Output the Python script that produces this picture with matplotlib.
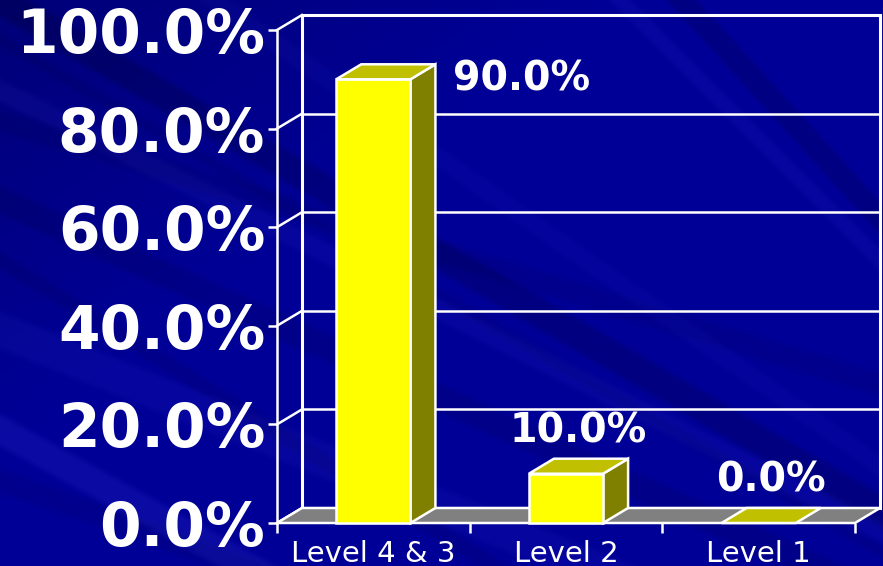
import numpy as np
import matplotlib
matplotlib.use("Agg")
import matplotlib.pyplot as plt
from matplotlib.patches import Polygon

# ---- data ----
categories = ["Level 4 & 3", "Level 2", "Level 1"]
values = [90.0, 10.0, 0.0]
yticks = [0, 20, 40, 60, 80, 100]
ytick_labels = ["0.0%", "20.0%", "40.0%", "60.0%", "80.0%", "100.0%"]

W_PX, H_PX = 883, 566
fig = plt.figure(figsize=(W_PX / 100, H_PX / 100), dpi=100)

# ---- background (dark blue with subtle diagonal streaks) ----
yy, xx = np.mgrid[0:H_PX, 0:W_PX].astype(float)
blue = np.full((H_PX, W_PX), 150.0)
red = np.zeros((H_PX, W_PX))
green = np.zeros((H_PX, W_PX))
blue -= 30 * np.clip(1 - (xx / 600 + yy / 450), 0, 1)

def band(slope, icpt, width, delta, soft=8.0):
    u = yy - slope * xx - icpt
    m = np.clip((width / 2 - np.abs(u)) / soft, 0, 1)
    return m * delta

streaks = [
    (0.58, 0, 40, -22), (0.50, 90, 30, 8), (0.45, 200, 35, -14),
    (0.40, 330, 45, 8), (0.55, 430, 40, 14), (0.35, 480, 30, -10),
    (1.10, -750, 40, -20), (1.0, -620, 30, 8), (0.70, -150, 30, 6),
    (0.30, 120, 30, -10), (0.62, 260, 25, -12), (0.58, 40, 20, -10),
]
for s, c, w, d in streaks:
    b = band(s, c, w, d)
    blue += b
    lift = np.clip(b, 0, None)
    red += 0.8 * lift
    green += 0.8 * lift
img = np.dstack([red, green, blue]) / 255.0
img = np.clip(img, 0, 1)
bg = fig.add_axes([0, 0, 1, 1])
bg.imshow(img, aspect="auto", interpolation="bilinear")
bg.axis("off")

# ---- main axes (front plane) ----
left_px, right_px, top_px, bottom_px = 277, 855, 30, 523
ax = fig.add_axes([left_px / W_PX, 1 - bottom_px / H_PX,
                   (right_px - left_px) / W_PX, (bottom_px - top_px) / H_PX])
ax.patch.set_alpha(0)
n = len(categories)
ax.set_xlim(0, n)
ax.set_ylim(0, 100)

# depth offsets in data units
dx = 25 / ((right_px - left_px) / n)
dy = 15 / ((bottom_px - top_px) / 100)
bar_w = 0.385
lw = 1.8
white = "white"

# floor
ax.add_patch(Polygon([(0, 0), (n, 0), (n + dx, dy), (dx, dy)], closed=True,
                     facecolor="#808080", edgecolor=white, lw=lw, clip_on=False, zorder=2))
# back wall
ax.add_patch(Polygon([(dx, dy), (n + dx, dy), (n + dx, 100 + dy), (dx, 100 + dy)], closed=True,
                     facecolor="none", edgecolor=white, lw=2.2, clip_on=False, zorder=1))
# side wall edges and grid lines
for v in yticks:
    ax.plot([0, dx], [v, v + dy], color=white, lw=lw, clip_on=False, zorder=1)
    if 0 < v < 100:
        ax.plot([dx, n + dx], [v + dy, v + dy], color=white, lw=lw, clip_on=False, zorder=1)

# bars
for i, v in enumerate(values):
    x0 = i + 0.5 - bar_w / 2
    x1 = x0 + bar_w
    if v > 0:
        ax.add_patch(Polygon([(x1, 0), (x1 + dx, dy), (x1 + dx, v + dy), (x1, v)], closed=True,
                             facecolor="#808000", edgecolor=white, lw=lw, clip_on=False, zorder=3))
        ax.add_patch(Polygon([(x0, 0), (x1, 0), (x1, v), (x0, v)], closed=True,
                             facecolor="#FFFF00", edgecolor=white, lw=lw, clip_on=False, zorder=3))
    ax.add_patch(Polygon([(x0, v), (x1, v), (x1 + dx, v + dy), (x0 + dx, v + dy)], closed=True,
                         facecolor="#C0C000", edgecolor=white, lw=lw, clip_on=False, zorder=3))
    label = f"{v:.1f}%"
    if v > 80:
        ax.text(x1 + dx + 0.09, v, label, ha="left", va="center", color=white,
                fontsize=28.5, fontweight="bold", family="DejaVu Sans", zorder=4)
    else:
        ax.text(i + 0.5 + dx / 2, v + dy + 1.5, label, ha="center", va="bottom", color=white,
                fontsize=28.5, fontweight="bold", family="DejaVu Sans", zorder=4)

# axes styling
for side in ["top", "right", "bottom"]:
    ax.spines[side].set_visible(False)
ax.spines["left"].set_color(white)
ax.spines["left"].set_linewidth(lw)
ax.spines["left"].set_zorder(2)

ax.set_yticks(yticks)
ax.set_yticklabels(ytick_labels, fontsize=43, fontweight="bold", color=white, family="DejaVu Sans")
ax.tick_params(axis="y", length=6.5, width=lw, color=white, pad=2)

ax.set_xticks(range(n + 1))
ax.set_xticklabels([""] * (n + 1))
ax.set_xticks([i + 0.5 for i in range(n)], minor=True)
ax.set_xticklabels(categories, minor=True, fontsize=21, color=white, family="DejaVu Sans")
ax.tick_params(axis="x", which="major", length=7.5, width=lw, color=white)
ax.tick_params(axis="x", which="minor", length=0, pad=12)

fig.savefig("out.png", dpi=100)
